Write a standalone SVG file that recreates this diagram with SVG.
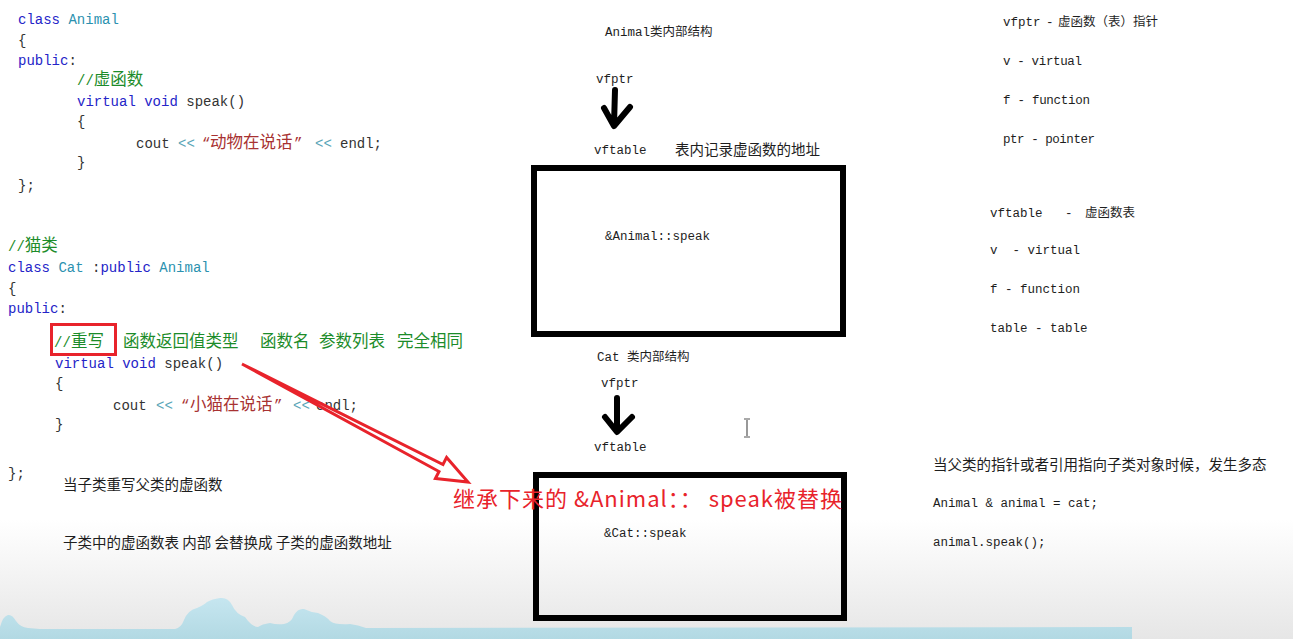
<svg xmlns="http://www.w3.org/2000/svg" width="1293" height="639" viewBox="0 0 1293 639">
<defs>
<linearGradient id="bg" x1="0" y1="0" x2="0" y2="1">
<stop offset="0" stop-color="#ffffff"/>
<stop offset="1" stop-color="#e6e6e6"/>
</linearGradient>
<linearGradient id="sea" x1="0" y1="0" x2="0" y2="1">
<stop offset="0" stop-color="#c6e6f0"/>
<stop offset="1" stop-color="#b2d9e3"/>
</linearGradient>
<style>
text{white-space:pre}
.code{font-family:"Liberation Mono","Noto Sans CJK SC",monospace;font-size:14px;fill:#333}
.cj{font-family:"Noto Sans CJK SC",sans-serif;font-size:16.5px}
.kw{fill:#2424c8}
.cls{fill:#2b91af}
.op{fill:#5aa6b8}
.str{fill:#a83232}
.cm{fill:#1c8c2a}
.lbl{font-family:"Liberation Mono","Noto Sans CJK SC",monospace;font-size:12.5px;fill:#1e1e1e}
.lcj{font-family:"Noto Sans CJK SC",sans-serif;font-size:12.5px}
.note{font-family:"Noto Sans CJK SC",sans-serif;font-size:14.5px;fill:#1e1e1e}
.box{fill:none;stroke:#000;stroke-width:6}
.blk{fill:none;stroke:#000;stroke-width:6;stroke-linecap:round;stroke-linejoin:round}
.red{fill:#fff;stroke:#e8232b;stroke-width:3;stroke-linejoin:miter}
</style>
</defs>
<rect width="1293" height="639" fill="#fff"/>
<rect y="520" width="1293" height="119" fill="url(#bg)"/>
<path d="M0,639 L0,627 Q3,616 8,615 Q12,614 16,621 Q20,627 28,628 L40,629 L175,629 Q181,628 184,620 Q188,610 197,608 Q204,605 207,602 Q212,599 220,598 Q228,597 232,605 Q236,614 245,617 Q252,627 258,627 Q262,624 270,623 Q277,625 284,624 Q291,623 294,615 Q298,608 304,609 Q310,612 318,613 Q326,616 330,621 Q335,625 350,624 Q358,625 366,628 L1132,627 L1132,639 Z" fill="url(#sea)"/>
<g id="code-animal" class="code">
<text x="18" y="24"><tspan class="kw">class</tspan> <tspan class="cls">Animal</tspan></text>
<text x="18" y="45">{</text>
<text x="18" y="65"><tspan class="kw">public</tspan>:</text>
<text x="77" y="85" class="cm">//<tspan class="cj">虚函数</tspan></text>
<text x="77" y="106"><tspan class="kw">virtual</tspan> <tspan class="kw">void</tspan> speak()</text>
<text x="77" y="126">{</text>
<text y="148"><tspan x="136">cout</tspan><tspan x="178" class="op">&lt;&lt;</tspan><tspan x="202" class="str">“</tspan><tspan x="210" class="str cj">动物在说话</tspan><tspan x="294" class="str">”</tspan><tspan x="315" class="op">&lt;&lt;</tspan><tspan x="340">endl;</tspan></text>
<text x="77" y="167">}</text>
<text x="18" y="190">};</text>
</g>
<g id="code-cat" class="code">
<text x="8" y="251" class="cm">//<tspan class="cj">猫类</tspan></text>
<text x="8" y="272"><tspan class="kw">class</tspan> <tspan class="cls">Cat</tspan> :<tspan class="kw">public</tspan> <tspan class="cls">Animal</tspan></text>
<text x="8" y="293">{</text>
<text x="8" y="313"><tspan class="kw">public</tspan>:</text>
<text y="347" class="cm"><tspan x="54">//</tspan><tspan x="71" class="cj">重写</tspan><tspan x="123" class="cj">函数返回值类型</tspan><tspan x="260" class="cj">函数名</tspan><tspan x="319" class="cj">参数列表</tspan><tspan x="397" class="cj">完全相同</tspan></text>
<text x="55" y="368"><tspan class="kw">virtual</tspan> <tspan class="kw">void</tspan> speak()</text>
<text x="55" y="388">{</text>
<text y="410"><tspan x="113">cout</tspan><tspan x="156" class="op">&lt;&lt;</tspan><tspan x="181" class="str">“</tspan><tspan x="190" class="str cj">小猫在说话</tspan><tspan x="274" class="str">”</tspan><tspan x="293" class="op">&lt;&lt;</tspan><tspan x="316">endl;</tspan></text>
<text x="55" y="429">}</text>
<text x="8" y="478">};</text>
<rect x="51.5" y="324.5" width="64" height="30" fill="none" stroke="#e8232b" stroke-width="3"/>
</g>
<g id="notes-left" class="note">
<text x="63" y="490">当子类重写父类的虚函数</text>
<text x="63" y="548">子类中的虚函数表 内部 会替换成 子类的虚函数地址</text>
</g>
<g id="animal-struct">
<text x="605" y="36" class="lbl">Animal<tspan class="lcj">类内部结构</tspan></text>
<text x="596" y="83" class="lbl">vfptr</text>
<text x="594" y="154" class="lbl">vftable</text>
<text x="675" y="155" class="note" font-size="14.5">表内记录虚函数的地址</text>
</g>
<g id="animal-vftable">
<rect x="534" y="168" width="309" height="166" class="box"/>
<text x="605" y="240" class="lbl">&amp;Animal::speak</text>
</g>
<g id="cat-struct">
<text x="597" y="361" class="lbl">Cat <tspan class="lcj">类内部结构</tspan></text>
<text x="601" y="387" class="lbl">vfptr</text>
<text x="594" y="451" class="lbl">vftable</text>
</g>
<g id="cat-vftable">
<rect x="536" y="475" width="308" height="143" class="box"/>
<text x="604" y="537" class="lbl">&amp;Cat::speak</text>
</g>
<g id="legend-vfptr" class="lbl">
<text x="1003" y="26">vfptr<tspan x="1046">-</tspan><tspan x="1058" class="lcj">虚函数（表）指针</tspan></text>
<text x="1003" y="65" textLength="79" lengthAdjust="spacing">v - virtual</text>
<text x="1003" y="104" textLength="87" lengthAdjust="spacing">f - function</text>
<text x="1003" y="143" textLength="92" lengthAdjust="spacing">ptr - pointer</text>
</g>
<g id="legend-vftable" class="lbl">
<text x="990" y="217">vftable   -<tspan x="1085" class="lcj" font-size="14">虚函数表</tspan></text>
<text x="990" y="254">v  - virtual</text>
<text x="990" y="293">f - function</text>
<text x="990" y="332">table - table</text>
</g>
<g id="polymorphism">
<text x="933" y="470" class="note" font-size="15">当父类的指针或者引用指向子类对象时候，发生多态</text>
<text x="933" y="507" class="lbl" font-size="12">Animal &amp; animal = cat;</text>
<text x="933" y="546" class="lbl" font-size="12">animal.speak();</text>
</g>
<g id="connectors">
<path class="blk" d="M615,90 L614,125 M604,108 L614,126 L630,107"/>
<path class="blk" d="M617,398 L617,430 M605,417 L617,432 L632,417"/>
<polygon class="red" points="242,364 443,464.5 446.6,457.4 468,482 435.4,478.6 439,471.5"/>
</g>
<g id="replace-label">
<text x="453" y="507" font-family="'Noto Sans CJK SC',sans-serif" font-size="22" fill="#e8232b" textLength="389" lengthAdjust="spacing">继承下来的 &amp;Animal：： speak被替换</text>
</g>
<path id="cursor" d="M747,420 V436 M744,419 H750 M744,437 H750" stroke="#555" stroke-width="1.2" fill="none"/>
</svg>
